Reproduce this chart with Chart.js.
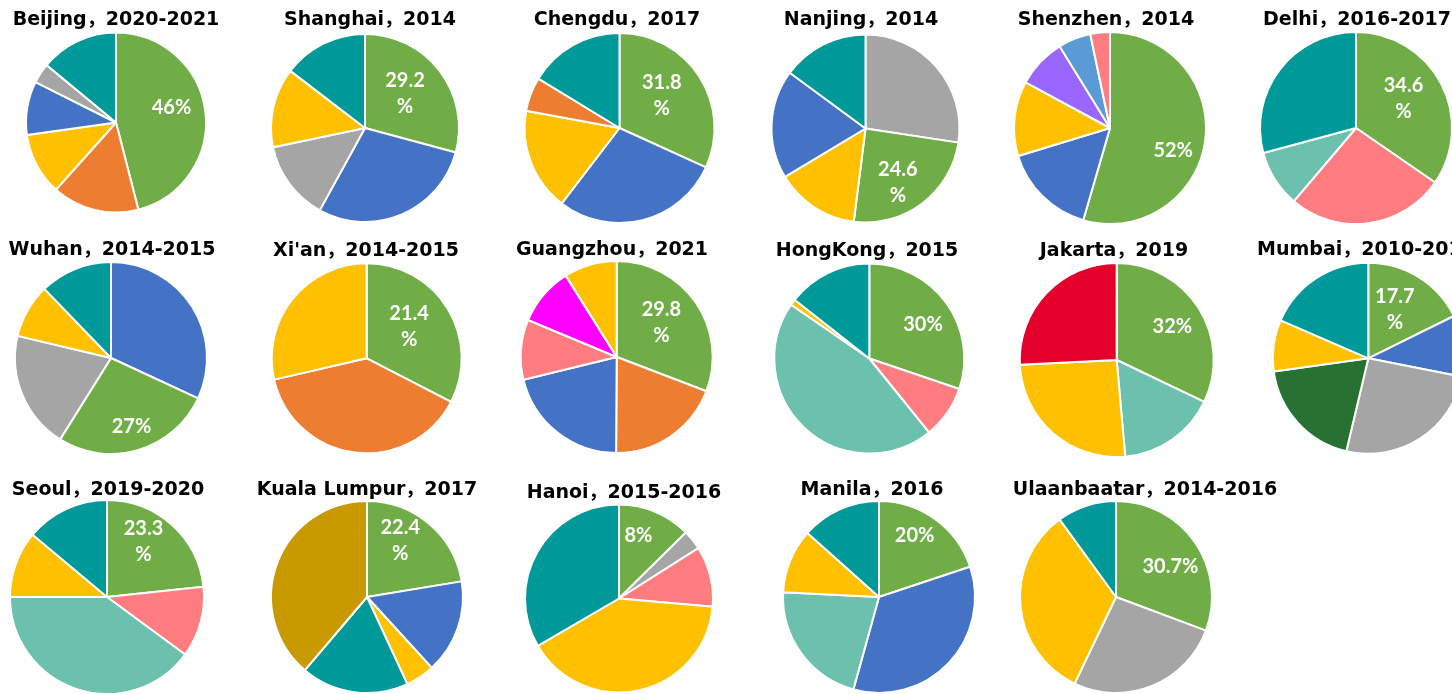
<!DOCTYPE html>
<html><head><meta charset="utf-8">
<script src="https://cdn.jsdelivr.net/npm/chart.js@4.4.1/dist/chart.umd.min.js"></script>
<style>
html,body{margin:0;padding:0;background:#fff;}
#wrap{position:relative;width:1452px;height:694px;overflow:hidden;background:#fff;}
#wrap canvas{position:absolute;}
</style></head><body><div id="wrap"></div>
<script>
// ---- titles ----
const titles = [
  "Beijing，2020-2021", "Shanghai，2014", "Chengdu，2017", "Nanjing，2014", "Shenzhen，2014", "Delhi，2016-2017",
  "Wuhan，2014-2015", "Xi'an，2014-2015", "Guangzhou，2021", "HongKong，2015", "Jakarta，2019", "Mumbai，2010-2011",
  "Seoul，2019-2020", "Kuala Lumpur，2017", "Hanoi，2015-2016", "Manila，2016", "Ulaanbaatar，2014-2016"
];
// ---- slice values (clockwise from 12 o'clock) ----
const beijing     = [46, 15.6, 11.2, 9.6, 3.6, 14.0];
const shanghai    = [29.2, 28.8, 13.7, 13.7, 14.6];
const chengdu     = [31.8, 28.6, 17.5, 5.8, 16.3];
const nanjing     = [27.4, 24.6, 14.4, 18.7, 14.9];
const shenzhen    = [54.5, 15.8, 12.6, 8.3, 5.5, 3.3];
const delhi       = [34.6, 26.6, 9.6, 29.2];
const wuhan       = [31.9, 27.0, 19.8, 9.1, 12.2];
const xian        = [32.6, 38.8, 28.6];
const guangzhou   = [30.8, 19.3, 21.1, 10.1, 9.8, 8.9];
const hongkong    = [30.2, 9.0, 45.4, 1.0, 14.4];
const jakarta     = [32.1, 16.5, 25.6, 25.8];
const mumbai      = [17.7, 10.4, 25.6, 19.1, 8.7, 18.5];
const seoul       = [23.3, 11.8, 39.9, 11.1, 13.9];
const kualaLumpur = [22.4, 15.8, 4.9, 18.1, 38.8];
const hanoi       = [12.6, 3.4, 10.4, 40.2, 33.4];
const manila      = [19.9, 34.4, 21.5, 10.8, 13.4];
const ulaanbaatar = [30.7, 26.4, 32.9, 10.0];
const seriesValues = [beijing, shanghai, chengdu, nanjing, shenzhen, delhi, wuhan, xian, guangzhou,
  hongkong, jakarta, mumbai, seoul, kualaLumpur, hanoi, manila, ulaanbaatar];
// ---- data label texts and which slice carries them ----
const labelTexts = ["46%", "29.2\n%", "31.8\n%", "24.6\n%", "52%", "34.6\n%", "27%", "21.4\n%", "29.8\n%",
  "30%", "32%", "17.7\n%", "23.3\n%", "22.4\n%", "8%", "20%", "30.7%"];
const labelSlice = [0,0,0,1,0,0,1,0,0,0,0,0,0,0,0,0,0];

// ---- styles ----
const C = {G:'#70AD47', O:'#ED7D31', Y:'#FFC000', B:'#4472C4', Gr:'#A5A5A5', T:'#009999', LT:'#6CC0AE',
  P:'#FF7C80', Pu:'#9966FF', LB:'#5B9BD5', M:'#FF00FF', R:'#E4002B', DG:'#277233', Au:'#C99A00'};
const sliceColors = [
  ['G','O','Y','B','Gr','T'], ['G','B','Gr','Y','T'], ['G','B','Y','O','T'], ['Gr','G','Y','B','T'],
  ['G','B','Y','Pu','LB','P'], ['G','P','LT','T'], ['B','G','Gr','Y','T'], ['G','O','Y'],
  ['G','O','B','P','M','Y'], ['G','P','LT','Y','T'], ['G','LT','Y','R'], ['G','B','Gr','DG','Y','T'],
  ['G','P','LT','Y','T'], ['G','B','Y','T','Au'], ['G','Gr','P','Y','T'], ['G','B','LT','Y','T'], ['G','Gr','Y','T']
];
// layout: pie centre, radius, title centre x / baseline, label angle fraction t and radius fraction f
const layout = [
  {cx:116,  cy:122.5, r:90,  tx:116,  ty:25,  t:.45, f:.64},
  {cx:365,  cy:128,   r:94,  tx:370,  ty:25,  t:.47, f:.56},
  {cx:619.5,cy:128,   r:95,  tx:617,  ty:25,  t:.46, f:.56},
  {cx:865.5,cy:128.5, r:94,  tx:861,  ty:25,  t:.57, f:.67},
  {cx:1110, cy:128,   r:96,  tx:1106, ty:25,  t:.56, f:.70},
  {cx:1356, cy:128,   r:96,  tx:1357, ty:25,  t:.47, f:.58},
  {cx:111,  cy:358,   r:96,  tx:112,  ty:255, t:.50, f:.75},
  {cx:366.7,cy:358.3, r:95,  tx:366,  ty:256, t:.45, f:.56},
  {cx:616.7,cy:357,   r:96,  tx:612,  ty:255, t:.47, f:.59},
  {cx:869.3,cy:358.5, r:95,  tx:867,  ty:256, t:.53, f:.67},
  {cx:1116.7,cy:360,  r:97,  tx:1114, ty:256, t:.51, f:.67},
  {cx:1368.3,cy:358.3,r:95.5,tx:1366, ty:255, t:.45, f:.58},
  {cx:107,  cy:597,   r:97,  tx:108,  ty:495, t:.40, f:.68},
  {cx:367,  cy:597,   r:96,  tx:367,  ty:495, t:.38, f:.68},
  {cx:619,  cy:598.5, r:94,  tx:624,  ty:498, t:.38, f:.70},
  {cx:879,  cy:597,   r:96,  tx:872,  ty:495, t:.42, f:.74},
  {cx:1116, cy:597,   r:96,  tx:1145, ty:495, t:.55, f:.65}
];

const TITLE_FONT = 'bold 19px "DejaVu Sans", "Noto Sans CJK SC", sans-serif';
const LABEL_FONT = 'bold 20px Lato, "Noto Sans", sans-serif';
const wrap = document.getElementById('wrap');
const W = 360;

seriesValues.forEach((vals, i) => {
  const L = layout[i];
  const R = L.r + 1; // borderWidth compensation
  const left = Math.floor(L.cx - W / 2);
  const top = Math.floor(L.cy - R - 48);
  const H = Math.ceil(L.cy + R + 8 - top);
  const cv = document.createElement('canvas');
  cv.width = W; cv.height = H;
  cv.style.left = left + 'px'; cv.style.top = top + 'px';
  cv.style.width = W + 'px'; cv.style.height = H + 'px';
  wrap.appendChild(cv);
  const pad = {
    left: L.cx - R - left,
    right: W - (L.cx + R - left),
    top: L.cy - R - top,
    bottom: H - (L.cy + R - top)
  };
  const deco = {
    id: 'deco' + i,
    afterDraw(chart) {
      const ctx = chart.ctx;
      ctx.save();
      ctx.font = TITLE_FONT;
      ctx.fillStyle = '#000';
      ctx.textAlign = 'center';
      ctx.textBaseline = 'alphabetic';
      ctx.fillText(titles[i], L.tx - left, L.ty - top);
      const arc = chart.getDatasetMeta(0).data[labelSlice[i]];
      const p = arc.getProps(['x','y','startAngle','endAngle','outerRadius'], true);
      const a = p.startAngle + (p.endAngle - p.startAngle) * L.t;
      const px = p.x + Math.cos(a) * p.outerRadius * L.f;
      const py = p.y + Math.sin(a) * p.outerRadius * L.f;
      const lines = labelTexts[i].split('\n');
      const lh = 26;
      ctx.font = LABEL_FONT;
      ctx.fillStyle = '#fff';
      ctx.textBaseline = 'middle';
      lines.forEach((ln, k) => ctx.fillText(ln, px, py - (lines.length - 1) * lh / 2 + k * lh));
      ctx.restore();
    }
  };
  new Chart(cv, {
    type: 'pie',
    data: {
      labels: vals.map((_, k) => String(k + 1)),
      datasets: [{
        data: vals,
        backgroundColor: sliceColors[i].map(k => C[k]),
        borderColor: '#ffffff',
        borderWidth: 2
      }]
    },
    options: {
      responsive: false,
      devicePixelRatio: 1,
      animation: false,
      layout: {padding: pad},
      plugins: {legend: {display: false}, tooltip: {enabled: false}, title: {display: false}}
    },
    plugins: [deco]
  });
});
</script>
</body></html>
